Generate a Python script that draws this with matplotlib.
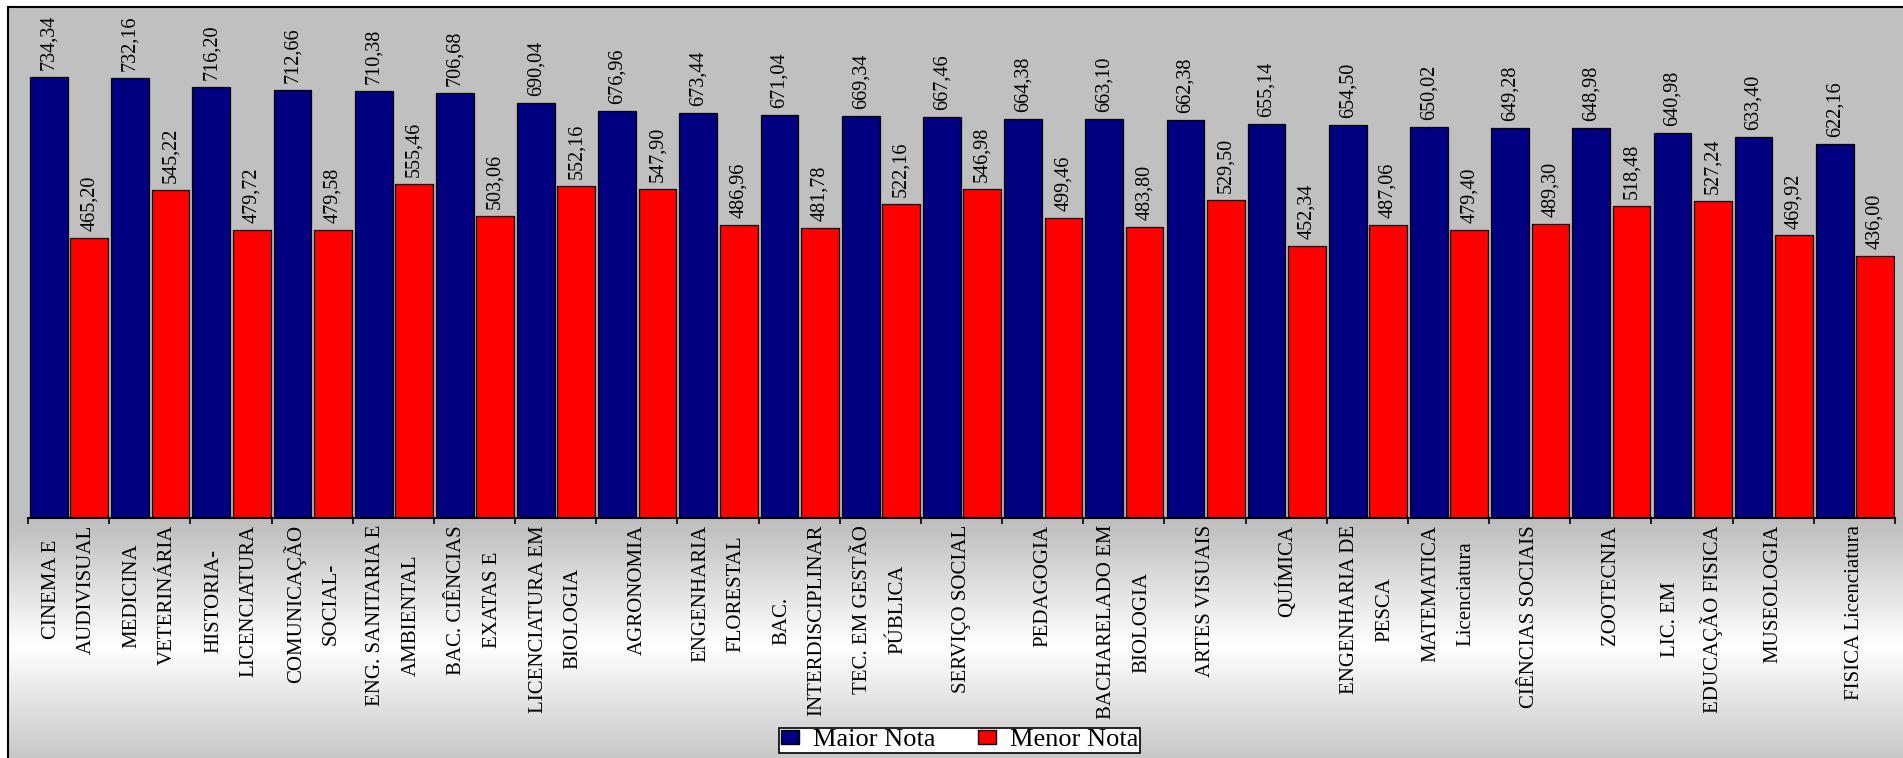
import numpy as np
import matplotlib
matplotlib.use("Agg")
import matplotlib.pyplot as plt
from matplotlib.patches import Patch

plt.rcParams['font.family'] = ['Liberation Serif', 'DejaVu Serif']

cursos = [
    "CINEMA E\nAUDIVISUAL",
    "MEDICINA\nVETERINÁRIA",
    "HISTORIA-\nLICENCIATURA",
    "COMUNICAÇÃO\nSOCIAL-",
    "ENG. SANITARIA E\nAMBIENTAL",
    "BAC. CIÊNCIAS\nEXATAS E",
    "LICENCIATURA EM\nBIOLOGIA",
    "AGRONOMIA",
    "ENGENHARIA\nFLORESTAL",
    "BAC.\nINTERDISCIPLINAR",
    "TEC. EM GESTÃO\nPÚBLICA",
    "SERVIÇO SOCIAL",
    "PEDAGOGIA",
    "BACHARELADO EM\nBIOLOGIA",
    "ARTES VISUAIS",
    "QUÍMICA",
    "ENGENHARIA DE\nPESCA",
    "MATEMATICA\nLicenciatura",
    "CIÊNCIAS SOCIAIS",
    "ZOOTECNIA",
    "LIC. EM\nEDUCAÇÃO FISICA",
    "MUSEOLOGIA",
    "FISICA Licenciatura",
]

maior_nota = [734.34, 732.16, 716.20, 712.66, 710.38, 706.68, 690.04, 676.96,
              673.44, 671.04, 669.34, 667.46, 664.38, 663.10, 662.38, 655.14,
              654.50, 650.02, 649.28, 648.98, 640.98, 633.40, 622.16]

menor_nota = [465.20, 545.22, 479.72, 479.58, 555.46, 503.06, 552.16, 547.90,
              486.96, 481.78, 522.16, 546.98, 499.46, 483.80, 529.50, 452.34,
              487.06, 479.40, 489.30, 518.48, 527.24, 469.92, 436.00]

series_names = ["Maior Nota", "Menor Nota"]
series_colors = ["#000080", "#FF0000"]

W, H, DPI = 1903, 758, 100
fig = plt.figure(figsize=(W / DPI, H / DPI), dpi=DPI, facecolor="white")

# Chart-area background: gray plot area, then a gray-white-gray band under the axis
bg = fig.add_axes([8 / W, 0, 1 - 8 / W, 1 - 7 / H], zorder=0)
rows = np.arange(7, H)
shade = np.interp(rows, [7, 518, 530, 645, 758], [0.753, 0.753, 0.76, 1.0, 0.78])
img = np.repeat(np.repeat(shade[:, None, None], 2, axis=1), 3, axis=2)
bg.imshow(img, aspect="auto", extent=(0, 1, 0, 1), interpolation="bilinear")
bg.set_xlim(0, 1)
bg.set_ylim(0, 1)
bg.set_xticks([])
bg.set_yticks([])
for side, sp in bg.spines.items():
    if side in ("left", "top"):
        sp.set_color("black")
        sp.set_linewidth(1.5)
    else:
        sp.set_visible(False)

# Plot area
ax = fig.add_axes([28 / W, 1 - 518 / H, (1895 - 28) / W, (518 - 7) / H], zorder=1)
ax.set_facecolor("none")

n = len(cursos)
idx = np.arange(n)
bar_w = 0.465
x_maior = idx + 0.258
x_menor = idx + 0.755

ax.bar(x_maior, maior_nota, bar_w, color=series_colors[0], edgecolor="black", linewidth=0.9)
ax.bar(x_menor, menor_nota, bar_w, color=series_colors[1], edgecolor="black", linewidth=0.9)

def fmt(v):
    return f"{v:.2f}".replace(".", ",")

for xs, vals in ((x_maior, maior_nota), (x_menor, menor_nota)):
    for x, v in zip(xs, vals):
        ax.annotate(fmt(v), (x, v), xytext=(0, 5), textcoords="offset points",
                    rotation=90, ha="center", va="bottom", fontsize=14.5)

ax.set_xlim(0, n)
ax.set_ylim(0, 850)
ax.set_yticks([])

ax.set_xticks(np.arange(n + 1))
ax.set_xticks(idx + 0.5, labels=cursos, minor=True)
ax.tick_params(axis="x", which="major", labelbottom=False, length=4, width=1.2,
               direction="out", color="black")
ax.tick_params(axis="x", which="minor", length=0, pad=5)
for lab in ax.get_xticklabels(minor=True):
    lab.set_rotation(90)
    lab.set_fontsize(15)
    lab.set_ha("center")
    lab.set_va("top")
    lab.set_multialignment("center")
    lab.set_linespacing(2.15)

for side in ("left", "right", "top"):
    ax.spines[side].set_visible(False)
ax.spines["bottom"].set_color("black")
ax.spines["bottom"].set_linewidth(1.5)

# Legend box under the labels
handles = [Patch(facecolor=c, edgecolor="black", linewidth=1) for c in series_colors]
leg = fig.legend(handles, series_names, loc="center",
                 bbox_to_anchor=(779 / W, 1 - 757 / H, 361 / W, 33 / H),
                 mode="expand", ncol=2, fontsize=19, frameon=True, fancybox=False,
                 edgecolor="black", facecolor="white", framealpha=1,
                 handlelength=0.68, handleheight=0.48, handletextpad=0.55,
                 borderpad=0.06, borderaxespad=0, columnspacing=0.6)
leg.get_frame().set_linewidth(1.2)

fig.savefig("out.png", dpi=DPI, facecolor="white")
